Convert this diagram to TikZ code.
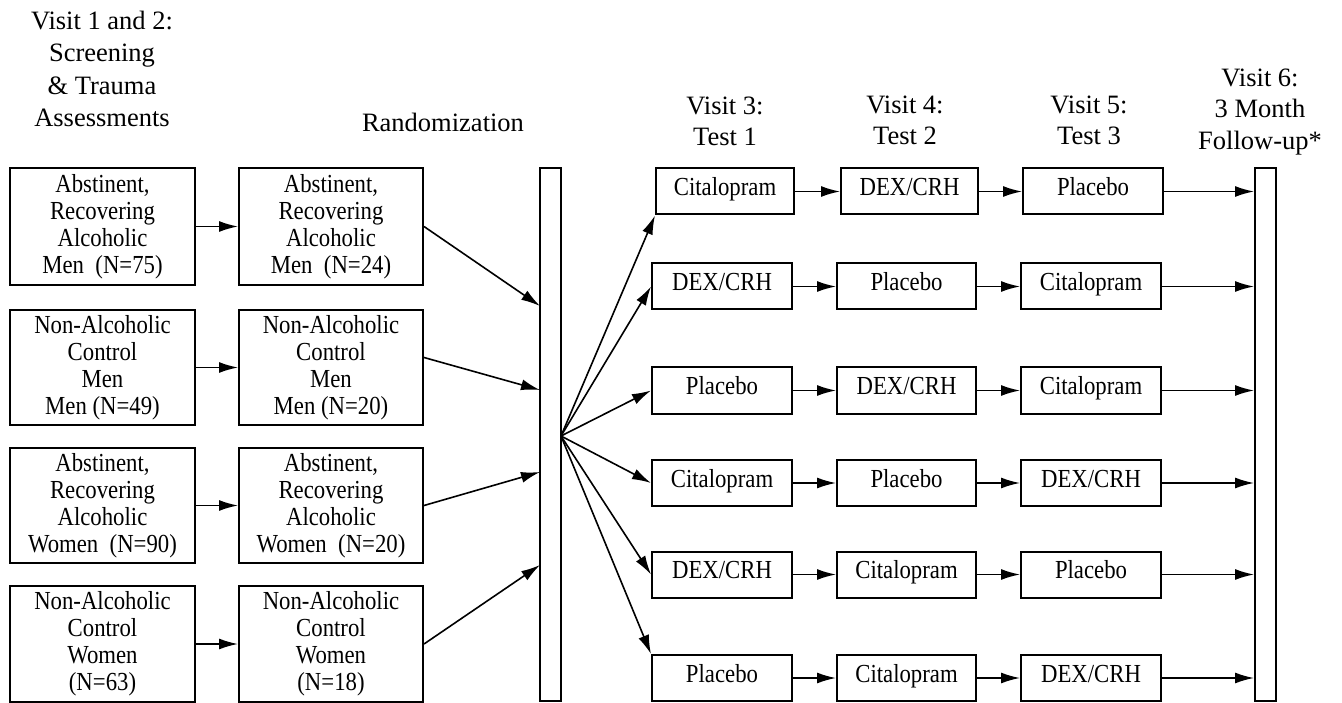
\documentclass[tikz,border=0pt]{standalone}
\usepackage{fontspec}
\setmainfont{Liberation Serif}
\newfontfamily\boxfont[FakeStretch=0.875]{Liberation Serif}
\usetikzlibrary{arrows.meta}
\begin{document}
\begin{tikzpicture}[x=1pt,y=-1pt,
  box/.style={draw, line width=2pt, inner sep=0pt, align=center,
    font=\boxfont\fontsize{26}{27}\selectfont},
  grpbox/.style={box, minimum width=185pt},
  tbox/.style={box, minimum width=140pt, minimum height=46pt, text height=17pt, text depth=9pt},
  bar/.style={draw, line width=2pt, minimum width=21pt, minimum height=533pt, inner sep=0pt},
  arr/.style={line width=1.6pt, -{Latex[length=19pt,width=11pt]}},
  head/.style={font=\fontsize{26.5}{32}\selectfont, anchor=base, inner sep=0pt}]
\useasboundingbox (0,0) rectangle (1342,703);

% headers
\node[head] (h1a) at (102,30) {Visit 1 and 2:};
\node[head] (h1b) at (102,62) {Screening};
\node[head] (h1c) at (102,95) {\& Trauma};
\node[head] (h1d) at (102,127) {Assessments};
\node[head] (hr) at (443,132) {Randomization};
\node[head] (h3a) at (725,115) {Visit 3:};
\node[head] (h3b) at (725,146) {Test 1};
\node[head] (h4a) at (905,114) {Visit 4:};
\node[head] (h4b) at (905,145) {Test 2};
\node[head] (h5a) at (1089,114) {Visit 5:};
\node[head] (h5b) at (1089,145) {Test 3};
\node[head] (h6a) at (1260,87) {Visit 6:};
\node[head] (h6b) at (1260,118) {3 Month};
\node[head] (h6c) at (1260,150) {Follow-up*};

% screening groups
\node[grpbox, minimum height=117pt] (a1) at (102.5,226.5) {Abstinent,\\Recovering\\Alcoholic\\Men~~(N=75)};
\node[grpbox, minimum height=115pt] (a2) at (102.5,367.5) {Non-Alcoholic\\Control\\Men\\Men (N=49)};
\node[grpbox, minimum height=115pt] (a3) at (102.5,505.5) {Abstinent,\\Recovering\\Alcoholic\\Women~~(N=90)};
\node[grpbox, minimum height=116pt] (a4) at (102.5,644) {Non-Alcoholic\\Control\\Women\\(N=63)};

% randomized groups
\node[grpbox, minimum width=184pt, minimum height=117pt] (b1) at (331,226.5) {Abstinent,\\Recovering\\Alcoholic\\Men~~(N=24)};
\node[grpbox, minimum width=184pt, minimum height=115pt] (b2) at (331,367.5) {Non-Alcoholic\\Control\\Men\\Men (N=20)};
\node[grpbox, minimum width=184pt, minimum height=115pt] (b3) at (331,505.5) {Abstinent,\\Recovering\\Alcoholic\\Women~~(N=20)};
\node[grpbox, minimum width=184pt, minimum height=116pt] (b4) at (331,644) {Non-Alcoholic\\Control\\Women\\(N=18)};

% bars
\node[bar] (rand) at (550.5,434.5) {};
\node[bar] (foll) at (1265.5,434.5) {};

% test sequences
\node[tbox, minimum width=138pt] (t1a) at (725,191.5) {Citalopram};
\node[tbox, minimum width=137pt] (t2a) at (909.5,191.5) {DEX/CRH};
\node[tbox] (t3a) at (1093,191.5) {Placebo};

\node[tbox] (t1b) at (722,286.5) {DEX/CRH};
\node[tbox, minimum width=139pt] (t2b) at (906.5,286.5) {Placebo};
\node[tbox] (t3b) at (1091,286.5) {Citalopram};

\node[tbox] (t1c) at (722,390.5) {Placebo};
\node[tbox, minimum width=139pt] (t2c) at (906.5,390.5) {DEX/CRH};
\node[tbox] (t3c) at (1091,390.5) {Citalopram};

\node[tbox] (t1d) at (722,483) {Citalopram};
\node[tbox, minimum width=139pt] (t2d) at (906.5,483) {Placebo};
\node[tbox] (t3d) at (1091,483) {DEX/CRH};

\node[tbox] (t1e) at (722,574.5) {DEX/CRH};
\node[tbox, minimum width=139pt] (t2e) at (906.5,574.5) {Citalopram};
\node[tbox] (t3e) at (1091,574.5) {Placebo};

\node[tbox] (t1f) at (722,678) {Placebo};
\node[tbox, minimum width=139pt] (t2f) at (906.5,678) {Citalopram};
\node[tbox] (t3f) at (1091,678) {DEX/CRH};

% arrows screening -> randomized
\foreach \i in {1,2,3,4} \draw[arr] (a\i.east) -- (b\i.west);

% arrows randomized -> randomization bar
\coordinate (r1) at (540,306);
\coordinate (r2) at (540,390);
\coordinate (r3) at (540,472);
\coordinate (r4) at (540,565);
\draw[arr] (b1.east) -- (r1);
\draw[arr] ([yshift=10pt]b2.east) -- (r2);
\draw[arr] (b3.east) -- (r3);
\draw[arr] (b4.east) -- (r4);

% fan-out
\coordinate (fan) at (561,436);
\draw[arr] (fan) -- (t1a.south west);
\draw[arr] (fan) -- (t1b.west);
\draw[arr] (fan) -- (t1c.west);
\draw[arr] (fan) -- (t1d.west);
\draw[arr] (fan) -- (t1e.west);
\draw[arr] (fan) -- (t1f.north west);

% sequences
\foreach \r in {a,b,c,d,e,f} {
  \draw[arr] (t1\r.east) -- (t2\r.west);
  \draw[arr] (t2\r.east) -- (t3\r.west);
  \draw[arr] (t3\r.east) -- (t3\r.east -| foll.west);
}
\end{tikzpicture}
\end{document}
